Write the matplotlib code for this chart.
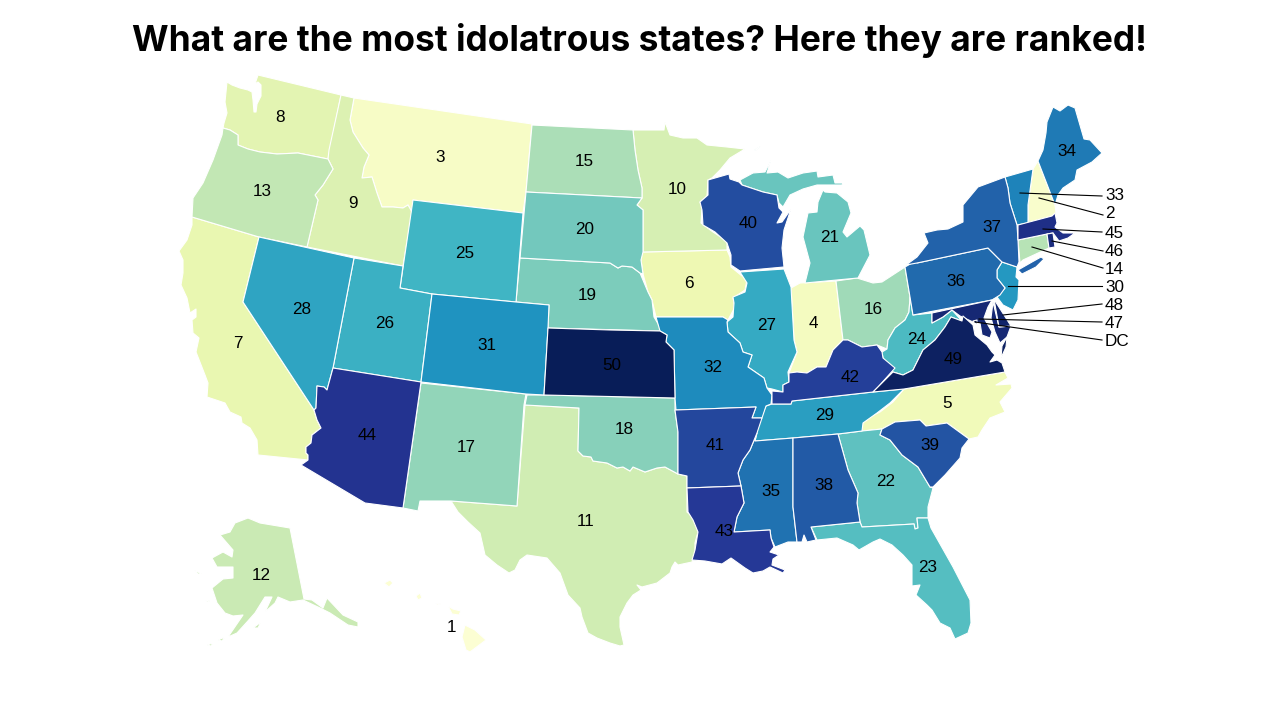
import matplotlib
matplotlib.use('Agg')
import matplotlib.pyplot as plt
from matplotlib.patches import Polygon
from matplotlib import colormaps
from matplotlib.colors import Normalize

title = 'What are the most idolatrous states? Here they are ranked!'

states = ['HI', 'NH', 'MT', 'IN', 'NC', 'IA', 'CA', 'WA', 'ID', 'MN',
          'TX', 'AK', 'OR', 'CT', 'ND', 'OH', 'NM', 'OK', 'NE', 'SD',
          'MI', 'GA', 'FL', 'WV', 'WY', 'UT', 'IL', 'NV', 'TN', 'NJ',
          'CO', 'MO', 'VT', 'ME', 'MS', 'PA', 'NY', 'AL', 'SC', 'WI',
          'AR', 'KY', 'LA', 'AZ', 'MA', 'RI', 'MD', 'DE', 'VA', 'KS', 'DC']
ranks = list(range(1, 51)) + [47]
labels = [str(r) for r in range(1, 51)] + ['DC']

# outlines traced by hand, in image pixels
shapes = {
    'WA': [[(258,75),(341,95),(328,159),(298,153),(277,154),(260,152),(248,149),(238,145),(238,135),(230,130),(223,128),(224,123),(227,113),(225,102),(227,82),(232,85),(240,88),(248,90),(252,92),(253,100),(254,112),(256,112),(257,104),(261,96),(261,85),(258,82),(255,84)]],
    'ID': [[(341,95),(354,98),(350,120),(353,132),(363,148),(369,155),(364,167),(362,178),(372,177),(377,193),(382,207),(393,207),(403,208),(408,205),(412,212),(403,266),(307,247),(318,200),(315,195),(323,185),(333,169),(328,159),(329,150)]],
    'MT': [[(354,98),(532,124),(526,192),(523,213),(413,200),(412,212),(408,205),(403,208),(393,207),(382,207),(377,193),(372,177),(362,178),(364,167),(369,155),(363,148),(353,132),(350,120)]],
    'OR': [[(223,128),(230,130),(238,135),(238,145),(248,149),(260,152),(277,154),(298,153),(328,159),(333,169),(323,185),(315,195),(318,200),(307,247),(259,237),(192,217),(193,198),(203,183),(213,160),(222,135)]],
    'CA': [[(192,217),(259,237),(243,302),(314,410),(317,420),(321,428),(312,435),(311,443),(306,447),(306,453),(308,455),(308,460),(258,455),(257,440),(250,428),(242,423),(241,417),(230,412),(225,403),(213,399),(207,397),(208,383),(205,375),(196,352),(199,338),(193,333),(192,320),(196,317),(196,309),(190,313),(187,298),(181,285),(183,273),(183,260),(179,251),(187,240),(192,225)]],
    'NV': [[(259,237),(354,258),(333,368),(327,390),(324,387),(317,386),(316,408),(314,410),(243,302)]],
    'UT': [[(354,258),(403,266),(400,288),(432,294),(421,382),(333,368)]],
    'AZ': [[(333,368),(421,382),(403,508),(365,503),(301,465),(308,460),(308,455),(306,453),(306,447),(311,443),(312,435),(321,428),(317,420),(314,410),(316,408),(317,386),(324,387),(327,390)]],
    'WY': [[(413,200),(523,213),(516,302),(432,294),(400,288)]],
    'CO': [[(432,294),(516,302),(549,305),(548,328),(544,395),(526,394),(421,382)]],
    'NM': [[(421,383),(526,394),(524,405),(517,506),(451,501),(420,501),(418,511),(403,508)]],
    'TX': [[(525,405),(579,408),(578,451),(583,456),(591,457),(593,461),(607,463),(617,468),(623,467),(630,471),(633,467),(645,472),(657,468),(665,467),(678,474),(687,476),(687,512),(693,517),(698,532),(695,543),(695,553),(692,562),(678,565),(675,562),(672,567),(670,573),(657,583),(642,587),(637,585),(641,590),(633,595),(627,603),(620,617),(620,627),(624,645),(620,646),(610,643),(597,638),(588,633),(582,617),(580,608),(568,595),(560,573),(547,558),(527,555),(520,560),(515,570),(509,573),(497,565),(485,555),(480,533),(468,522),(458,512),(451,501),(517,506)]],
    'OK': [[(527,395),(544,395),(675,398),(675,410),(678,432),(678,474),(665,467),(657,468),(645,472),(633,467),(630,471),(623,467),(617,468),(607,463),(593,461),(591,457),(583,456),(578,451),(579,408),(525,405)]],
    'KS': [[(548,328),(610,330),(660,331),(667,335),(666,342),(674,350),(675,398),(544,395)]],
    'NE': [[(520,258),(610,263),(618,268),(622,266),(632,267),(640,273),(648,292),(652,300),(654,317),(663,332),(660,331),(548,328),(549,305),(516,302)]],
    'SD': [[(526,192),(642,198),(637,205),(643,210),(643,252),(641,260),(643,274),(640,273),(632,267),(622,266),(618,268),(610,263),(520,258)]],
    'ND': [[(532,125),(633,130),(635,150),(638,170),(642,188),(642,198),(526,192)]],
    'MN': [[(633,130),(664,130),(665,122),(670,135),(683,138),(697,138),(707,145),(727,147),(745,149),(730,158),(720,170),(712,178),(708,180),(707,196),(700,202),(702,208),(701,223),(713,232),(727,241),(727,250),(643,252),(643,210),(637,205),(642,198),(642,188),(638,170),(635,150)]],
    'IA': [[(642,252),(727,250),(730,257),(731,267),(747,280),(745,290),(733,298),(735,307),(728,320),(723,317),(656,317),(652,300),(648,292),(643,274),(641,260)]],
    'MO': [[(656,317),(723,317),(728,320),(727,322),(728,332),(740,343),(743,352),(752,355),(748,367),(764,378),(767,388),(772,395),(771,404),(766,406),(762,418),(752,418),(756,407),(676,410),(675,398),(674,350),(666,342),(667,335),(660,331)]],
    'WI': [[(708,180),(729,174),(730,179),(739,182),(742,185),(763,192),(777,195),(779,208),(783,212),(777,223),(782,222),(791,209),(784,230),(782,248),(784,267),(740,271),(731,265),(731,255),(727,243),(715,232),(703,225),(702,210),(700,202),(708,195)]],
    'MI': [[(740,180),(753,173),(765,172),(771,160),(767,173),(778,172),(788,178),(803,173),(817,171),(818,177),(833,175),(835,183),(843,183),(842,185),(825,185),(817,185),(803,189),(790,195),(783,207),(779,203),(777,195),(763,192),(742,185)],
           [(825,192),(837,193),(848,202),(851,213),(843,232),(847,237),(860,226),(864,230),(870,255),(858,278),(805,283),(810,263),(803,237),(808,213),(817,212),(818,202),(823,190)],
           [(754,150),(761,146),(755,151)]],
    'IL': [[(740,272),(784,269),(791,287),(794,340),(797,352),(788,372),(789,382),(783,385),(783,392),(772,389),(767,388),(764,378),(748,367),(752,355),(743,352),(740,343),(728,332),(727,322),(733,317),(734,303),(733,297),(745,292),(747,283)]],
    'IN': [[(791,288),(800,283),(836,281),(843,340),(833,350),(826,367),(817,367),(807,373),(797,372),(789,373),(797,352),(794,340)]],
    'OH': [[(836,281),(857,278),(873,283),(882,282),(905,267),(910,297),(909,312),(905,320),(895,328),(888,340),(887,349),(877,345),(862,347),(848,340),(843,340)]],
    'KY': [[(843,340),(848,340),(862,347),(877,345),(882,352),(883,358),(895,368),(887,377),(878,387),(873,392),(792,401),(791,404),(772,404),(772,391),(783,392),(783,385),(789,382),(789,373),(797,372),(807,373),(817,367),(826,367),(833,350)]],
    'TN': [[(772,404),(791,404),(792,401),(873,392),(904,389),(890,403),(877,413),(863,423),(862,431),(838,434),(793,438),(755,441),(757,432),(760,420),(766,406)]],
    'AR': [[(676,410),(756,407),(752,418),(762,418),(757,433),(750,450),(743,460),(738,473),(741,486),(687,488),(687,476),(678,474),(678,432),(675,410)]],
    'LA': [[(687,488),(741,486),(744,503),(737,517),(734,532),(770,530),(771,538),(774,547),(770,552),(779,555),(773,559),(772,565),(785,570),(783,573),(770,567),(763,571),(753,573),(745,568),(731,558),(722,564),(705,561),(692,560),(695,550),(698,532),(693,520),(688,512)]],
    'MS': [[(755,441),(793,438),(793,470),(793,507),(797,542),(788,542),(775,547),(771,538),(770,530),(734,532),(737,517),(744,503),(741,486),(738,473),(743,460),(750,450),(757,433)]],
    'AL': [[(793,438),(838,434),(848,470),(858,493),(857,503),(860,522),(811,527),(816,540),(807,542),(804,535),(802,542),(797,542),(793,507),(793,470)]],
    'GA': [[(838,434),(862,431),(882,429),(880,435),(890,440),(902,455),(918,467),(930,487),(933,488),(928,507),(928,518),(917,518),(918,528),(915,529),(914,524),(862,527),(860,522),(857,503),(858,493),(848,470)]],
    'FL': [[(811,527),(860,522),(862,527),(914,524),(915,529),(918,528),(917,518),(928,518),(931,528),(953,567),(970,600),(971,623),(968,633),(955,639),(950,628),(940,623),(932,610),(927,605),(916,595),(920,585),(912,586),(912,565),(903,555),(892,545),(880,539),(873,542),(859,550),(853,545),(837,538),(817,540)]],
    'SC': [[(882,429),(895,422),(920,420),(926,426),(947,423),(969,439),(962,448),(960,458),(945,475),(933,487),(930,487),(918,467),(902,455),(890,440),(880,435)]],
    'NC': [[(904,389),(1005,372),(1008,378),(996,385),(1011,384),(1012,388),(1000,402),(1005,412),(990,418),(982,430),(978,437),(969,439),(947,423),(926,426),(920,420),(895,422),(882,429),(862,431),(863,420),(880,412),(893,402)]],
    'VA': [[(873,392),(880,385),(893,372),(903,375),(913,370),(923,350),(935,340),(945,327),(951,317),(962,321),(963,316),(973,325),(975,335),(987,345),(992,352),(995,355),(990,362),(997,360),(1002,363),(1005,372),(904,389)],
           [(1001,358),(1002,346),(1007,337),(1006,347)]],
    'WV': [[(887,349),(888,340),(895,328),(905,320),(909,312),(910,297),(913,315),(932,313),(932,323),(943,317),(952,310),(962,321),(951,317),(945,327),(935,340),(923,350),(913,370),(903,375),(893,372),(883,358),(882,352)]],
    'MD': [[(932,313),(992,300),(988,307),(984,318),(992,332),(990,338),(982,335),(980,323),(973,322),(960,316),(952,310),(943,317),(932,323)],
           [(993,302),(999,327),(1011,326),(1007,337),(1000,343),(995,332),(991,318)]],
    'DE': [[(994,299),(997,304),(1004,315),(1011,326),(999,327)]],
    'DC': [[(973,321),(977,320),(977,325)]],
    'PA': [[(905,267),(917,260),(917,263),(988,248),(995,255),(1002,262),(997,270),(997,278),(1005,288),(1000,295),(992,300),(913,315),(910,297)]],
    'NY': [[(906,265),(917,257),(928,243),(924,233),(937,230),(948,229),(963,222),(963,205),(978,187),(1005,177),(1008,188),(1010,203),(1017,225),(1018,240),(1019,262),(1017,267),(1002,262),(995,255),(988,248),(917,263)],
           [(1018,270),(1032,262),(1041,257),(1044,259),(1036,267),(1022,274)]],
    'NJ': [[(1002,262),(1017,267),(1016,277),(1019,280),(1018,300),(1013,310),(1003,305),(997,297),(1005,288),(997,278),(997,270)]],
    'CT': [[(1018,240),(1047,234),(1049,248),(1023,260),(1020,263)]],
    'RI': [[(1047,234),(1053,233),(1055,247),(1049,248)]],
    'MA': [[(1018,225),(1052,216),(1055,213),(1057,223),(1055,227),(1063,233),(1070,233),(1075,233),(1068,238),(1059,241),(1053,233),(1047,234),(1018,240)]],
    'VT': [[(1005,177),(1033,169),(1028,205),(1028,223),(1017,225),(1010,203),(1008,188)]],
    'NH': [[(1033,169),(1038,161),(1055,205),(1056,213),(1052,216),(1028,223),(1028,205)]],
    'ME': [[(1038,161),(1043,150),(1046,133),(1047,122),(1053,107),(1060,111),(1068,105),(1075,108),(1084,139),(1090,140),(1102,153),(1092,162),(1077,170),(1075,180),(1063,188),(1058,195),(1055,205)]],
    'AK': [[(248,518),(260,523),(290,528),(304,599),(312,600),(323,608),(327,598),(343,615),(358,622),(358,627),(348,625),(330,613),(320,608),(303,600),(290,602),(278,597),(275,603),(265,612),(272,597),(265,597),(255,613),(247,622),(237,633),(228,637),(243,615),(233,616),(225,613),(217,603),(212,588),(223,579),(233,578),(233,567),(217,567),(212,558),(223,552),(232,557),(233,550),(220,535),(230,532),(235,523)],
           [(253,628),(261,622),(258,628)],
           [(207,645),(213,643),(211,646)],
           [(218,640),(225,637),(222,641)],
           [(194,570),(202,574),(198,574)],
           [(205,600),(210,601),(207,602)]],
    'HI': [[(384,583),(390,580),(393,583),(389,587)],
           [(416,596),(420,593),(422,598),(418,600)],
           [(435,603),(441,604),(437,605)],
           [(448,606),(453,609),(461,611),(459,615),(452,614)],
           [(465,625),(475,630),(486,640),(478,646),(470,652),(466,650),(462,637)]],
}

label_pos = {
    'WA': (280,118), 'MT': (440,158), 'OR': (262,192), 'ID': (353,204), 'CA': (238,343),
    'NV': (302,309), 'UT': (385,324), 'WY': (465,253), 'CO': (487,345), 'AZ': (367,436),
    'NM': (466,447), 'OK': (624,430), 'TX': (586,522), 'KS': (612,365), 'NE': (587,295),
    'SD': (585,229), 'ND': (584,162), 'MN': (677,190), 'IA': (689,284), 'MO': (713,368),
    'IL': (767,326), 'IN': (813,324), 'WI': (748,224), 'MI': (830,238), 'OH': (873,309),
    'WV': (917,340), 'KY': (850,377), 'TN': (825,416), 'AR': (715,445), 'LA': (724,531),
    'MS': (771,491), 'AL': (824,485), 'GA': (886,481), 'SC': (930,446), 'NC': (947,404),
    'FL': (928,567), 'PA': (956,282), 'NY': (992,228), 'ME': (1067,151), 'VA': (953,360),
    'AK': (261,575), 'HI': (452,627),
}

# small states labelled off to the side: start of leader, end of leader, text height
callouts = {
    'VT': ((1020,193), (1102,196), 196),
    'NH': ((1039,198), (1103,215), 214),
    'MA': ((1043,229), (1102,232), 233),
    'RI': ((1052,241), (1103,251), 251),
    'CT': ((1032,247), (1103,268), 269),
    'NJ': ((1008,286), (1102,286), 287),
    'DE': ((1003,315), (1102,304), 305),
    'MD': ((979,319), (1102,322), 323),
    'DC': ((975,322), (1102,340), 341),
}

plt.rcParams['font.family'] = ['Liberation Sans', 'DejaVu Sans']

fig = plt.figure(figsize=(12.8, 7.2), dpi=100)
ax = fig.add_axes([0, 0, 1, 1])
ax.set_xlim(0, 1280)
ax.set_ylim(720, 0)
ax.axis('off')

cmap = colormaps['YlGnBu']
norm = Normalize(vmin=0, vmax=50)

for state, rank, label in zip(states, ranks, labels):
    for outline in shapes[state]:
        ax.add_patch(Polygon(outline, closed=True, facecolor=cmap(norm(rank)),
                             edgecolor='white', linewidth=0.8, joinstyle='round'))
    if state in label_pos:
        x, y = label_pos[state]
        ax.text(x, y, label, fontsize=12.3, color='black', ha='center', va='center')
    if state in callouts:
        start, end, text_y = callouts[state]
        ax.plot([start[0], end[0]], [start[1], end[1]], color='black', linewidth=0.8)
        ax.text(1105, text_y, label, fontsize=12.3, color='black', ha='left', va='center')

ax.text(640, 41, title, fontsize=25.4, fontweight='bold', family=['Inter', 'Liberation Sans'],
        color='black', ha='center', va='center')

fig.savefig('out.png', dpi=100)
